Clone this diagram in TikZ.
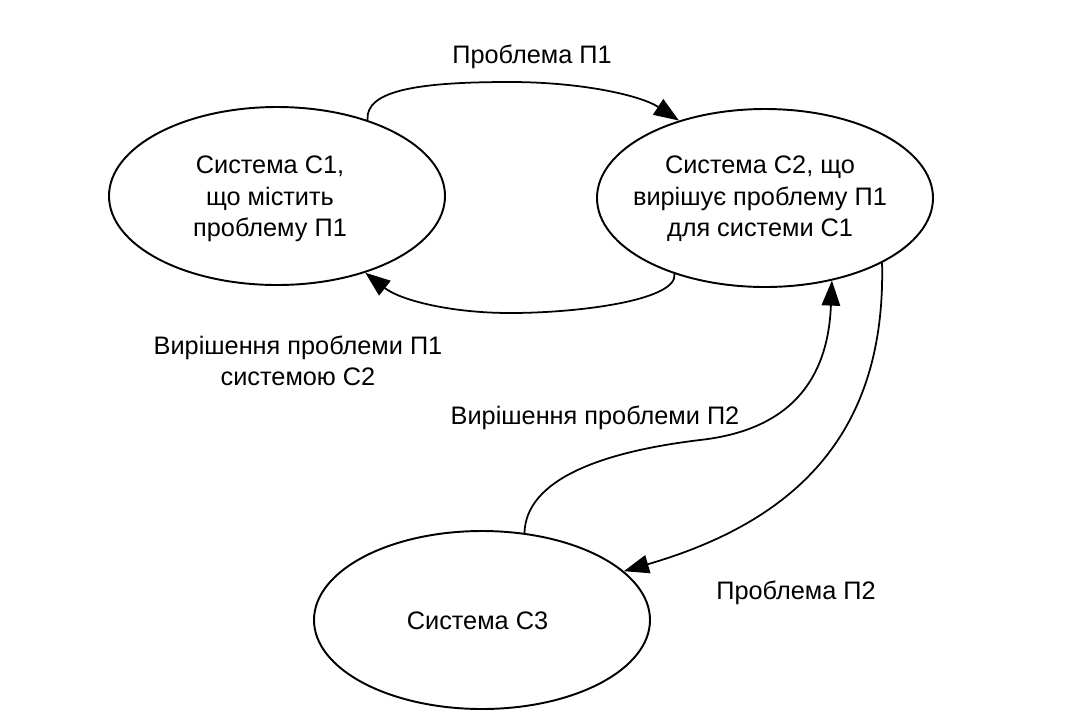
\documentclass[tikz,border=0pt]{standalone}
\usepackage{fontspec}
\setmainfont{Liberation Sans}
\usepackage{tikz}
\usetikzlibrary{arrows.meta,shapes.geometric}

\begin{document}
\begin{tikzpicture}[
    font=\fontsize{14.4}{17.9}\selectfont,
    sysbox/.style={draw, ellipse, line width=1.1pt, minimum width=6.72cm, minimum height=3.56cm, inner sep=0pt},
    txt/.style={align=center, inner sep=1pt},
    line/.style={-{Triangle[length=5mm, width=3.7mm]}, line width=1pt}
]
\useasboundingbox (0,0) rectangle (21.32,-14.42);

\node[sysbox] (c1) at (5.54,-3.92) {};
\node[sysbox] (c2) at (15.3,-3.96) {};
\node[sysbox] (c3) at (9.64,-12.4) {};
\node[txt] (c1txt) at (5.4,-3.98) {Система С1,\\що містить\\проблему П1};
\node[txt] (c2txt) at (15.2,-3.98) {Система С2, що\\вирішує проблему П1\\для системи С1};
\node[txt] (c3txt) at (9.55,-12.42) {Система С3};

\node[txt] (p1) at (10.64,-1.14) {Проблема П1};
\node[txt] (r1) at (5.96,-7.22) {Вирішення проблеми П1\\системою С2};
\node[txt] (r2) at (11.9,-8.36) {Вирішення проблеми П2};
\node[txt] (p2) at (15.92,-11.86) {Проблема П2};

\draw[line] (c1.40) .. controls (7.3,-1.8) and (8.4,-1.64) .. (10.2,-1.64)
    .. controls (11.6,-1.64) and (12.8,-1.9) .. (c2.138);
\draw[line] (c2.220) .. controls (13.56,-6.0) and (11.6,-6.26) .. (10.2,-6.26)
    .. controls (9.0,-6.26) and (8.0,-6.0) .. (c1.-41);
\draw[line] (c3.64) .. controls (10.52,-9.6) and (12,-9.04) .. (14,-8.8)
    .. controls (15.8,-8.6) and (16.56,-7.6) .. (c2.-51);
\draw[line] (c2.-29) .. controls (17.72,-8.6) and (16,-10.4) .. (c3.19);
\end{tikzpicture}
\end{document}
